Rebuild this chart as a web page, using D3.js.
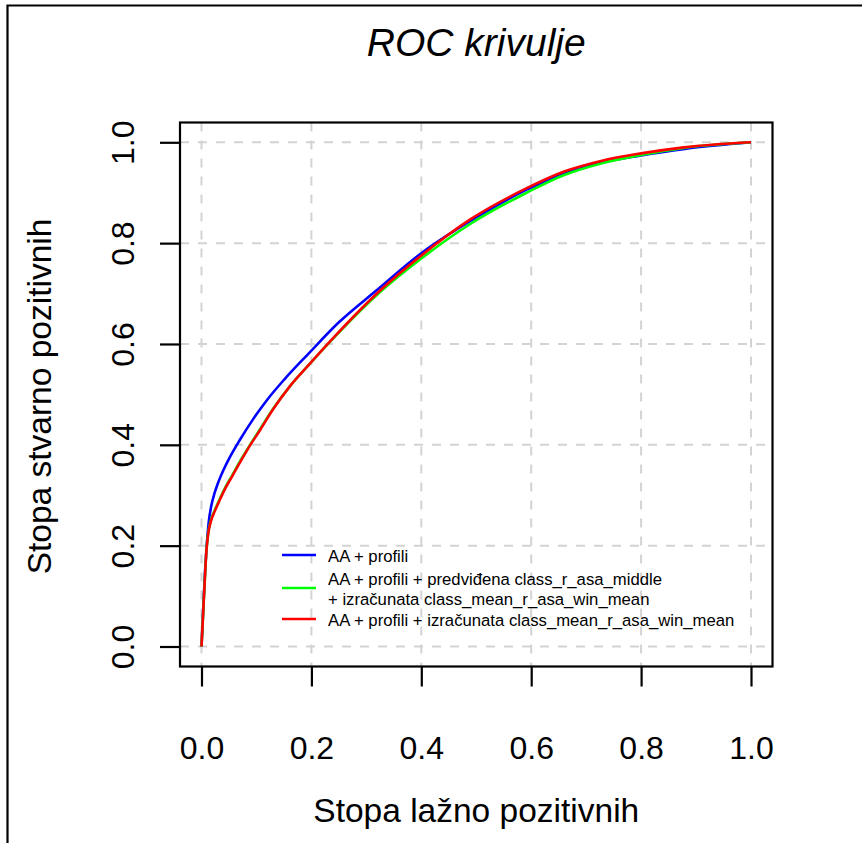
<!DOCTYPE html>
<html>
<head>
<meta charset="utf-8">
<script src="https://cdn.jsdelivr.net/npm/d3@7/dist/d3.min.js"></script>
<style>
  html, body { margin: 0; padding: 0; background: #fff; }
  svg { display: block; }
  text { font-family: "Liberation Sans", Arial, Helvetica, sans-serif; fill: #000; }
</style>
</head>
<body>
<svg id="chart" width="862" height="843"></svg>
<script>
// ROC curves for three feature sets (false positive rate vs. true positive rate)
const fprBlue = [0, 0.003, 0.006, 0.0095, 0.013, 0.018, 0.024, 0.031, 0.04, 0.05, 0.07, 0.094, 0.12, 0.151, 0.194, 0.25, 0.317, 0.40, 0.5, 0.59, 0.7, 0.8, 0.88, 1.0];
const tprBlue = [0, 0.07, 0.14, 0.20, 0.245, 0.28, 0.305, 0.327, 0.35, 0.372, 0.41, 0.451, 0.49, 0.53, 0.58, 0.643, 0.705, 0.78, 0.851, 0.905, 0.952, 0.974, 0.987, 1.0];

const fprGreen = [0, 0.003, 0.006, 0.009, 0.012, 0.017, 0.024, 0.033, 0.044, 0.056, 0.07, 0.085, 0.107, 0.13, 0.16, 0.194, 0.245, 0.324, 0.403, 0.489, 0.59, 0.66, 0.727, 0.8, 0.878, 1.0];
const tprGreen = [0, 0.066, 0.132, 0.19, 0.223, 0.25, 0.27, 0.292, 0.317, 0.34, 0.367, 0.394, 0.432, 0.471, 0.515, 0.557, 0.617, 0.702, 0.772, 0.838, 0.899, 0.935, 0.958, 0.975, 0.989, 1.0];

const fprRed = [0, 0.003, 0.006, 0.009, 0.012, 0.017, 0.024, 0.033, 0.044, 0.056, 0.07, 0.085, 0.107, 0.13, 0.16, 0.194, 0.245, 0.324, 0.403, 0.489, 0.59, 0.66, 0.727, 0.8, 0.878, 1.0];
const tprRed = [0, 0.066, 0.132, 0.19, 0.222, 0.248, 0.268, 0.29, 0.315, 0.338, 0.365, 0.393, 0.43, 0.47, 0.515, 0.557, 0.618, 0.705, 0.778, 0.847, 0.908, 0.942, 0.963, 0.978, 0.99, 1.0];

const tickValues = [0, 0.2, 0.4, 0.6, 0.8, 1.0];
const tickLabels = ["0.0", "0.2", "0.4", "0.6", "0.8", "1.0"];

const seriesNames = [
  ["AA + profili"],
  ["AA + profili + predviđena class_r_asa_middle", "+ izračunata class_mean_r_asa_win_mean"],
  ["AA + profili + izračunata class_mean_r_asa_win_mean"]
];
const seriesColors = ["#0000FF", "#00FF00", "#FF0000"];

const titleText = "ROC krivulje";
const xLabel = "Stopa lažno pozitivnih";
const yLabel = "Stopa stvarno pozitivnih";

const series = [
  fprBlue.map((x, i) => ({x, y: tprBlue[i]})),
  fprGreen.map((x, i) => ({x, y: tprGreen[i]})),
  fprRed.map((x, i) => ({x, y: tprRed[i]}))
];

const svg = d3.select("#chart");

// plotting region box
const box = {left: 180, right: 772.5, top: 122.5, bottom: 666.5};

const x = d3.scaleLinear().domain([0, 1]).range([201.5, 751]);
const y = d3.scaleLinear().domain([0, 1]).range([646.5, 142.3]);

// outer figure frame (left and top edges)
svg.append("path")
  .attr("d", "M7.5,843 L7.5,5.5 L862,5.5")
  .attr("fill", "none").attr("stroke", "#000").attr("stroke-width", 2.2);

// dashed grid
const grid = svg.append("g").attr("stroke", "#D3D3D3").attr("stroke-width", 2)
  .attr("stroke-dasharray", "9,9").attr("fill", "none");
tickValues.forEach(v => {
  grid.append("line").attr("x1", x(v)).attr("x2", x(v)).attr("y1", box.top).attr("y2", box.bottom);
  grid.append("line").attr("x1", box.left).attr("x2", box.right).attr("y1", y(v)).attr("y2", y(v));
});

// curves
const line = d3.line().x(d => x(d.x)).y(d => y(d.y)).curve(d3.curveMonotoneX);
series.forEach((s, i) => {
  svg.append("path").datum(s)
    .attr("d", line)
    .attr("fill", "none")
    .attr("stroke", seriesColors[i])
    .attr("stroke-width", 2.6)
    .attr("stroke-linejoin", "round");
});

// box around the plotting region
svg.append("rect")
  .attr("x", box.left).attr("y", box.top)
  .attr("width", box.right - box.left).attr("height", box.bottom - box.top)
  .attr("fill", "none").attr("stroke", "#000").attr("stroke-width", 2.2);

// x axis
const xAxis = d3.axisBottom(x).tickValues(tickValues)
  .tickFormat((d, i) => tickLabels[i]).tickSize(20).tickPadding(0);
const gx = svg.append("g").attr("transform", `translate(0,${box.bottom})`).call(xAxis);
gx.select(".domain").remove();
gx.selectAll(".tick line").attr("stroke", "#000").attr("stroke-width", 2.2);
gx.selectAll(".tick text").attr("y", 92).attr("dy", null)
  .style("font-size", "32px").style("font-family", "'Liberation Sans', Arial, sans-serif");

// y axis (labels parallel to the axis)
const yAxis = d3.axisLeft(y).tickValues(tickValues)
  .tickFormat((d, i) => tickLabels[i]).tickSize(20).tickPadding(0);
const gy = svg.append("g").attr("transform", `translate(${box.left},0)`).call(yAxis);
gy.select(".domain").remove();
gy.selectAll(".tick line").attr("stroke", "#000").attr("stroke-width", 2.2);
gy.selectAll(".tick text")
  .attr("x", null).attr("dy", null)
  .attr("text-anchor", "middle")
  .attr("transform", "translate(-46,0) rotate(-90)")
  .style("font-size", "32px").style("font-family", "'Liberation Sans', Arial, sans-serif");

// titles
const cx = (box.left + box.right) / 2;
svg.append("text").attr("x", cx).attr("y", 56).attr("text-anchor", "middle")
  .style("font-size", "39px").style("font-style", "italic").text(titleText);
svg.append("text").attr("x", cx).attr("y", 822).attr("text-anchor", "middle")
  .style("font-size", "33.5px").text(xLabel);
svg.append("text")
  .attr("transform", `translate(51,${(box.top + box.bottom) / 2 + 2}) rotate(-90)`)
  .attr("text-anchor", "middle").style("font-size", "33.5px").text(yLabel);

// legend
const legend = svg.append("g");
const legendRows = [
  {ys: [556], lineY: 555},
  {ys: [579, 598.5], lineY: 588},
  {ys: [619.5], lineY: 619}
];
legendRows.forEach((r, i) => {
  legend.append("line").attr("x1", 282).attr("x2", 316)
    .attr("y1", r.lineY).attr("y2", r.lineY)
    .attr("stroke", seriesColors[i]).attr("stroke-width", 2.6);
  seriesNames[i].forEach((t, j) => {
    legend.append("text").attr("x", 328).attr("y", r.ys[j] + 6)
      .style("font-size", "16.7px").text(t);
  });
});
</script>
</body>
</html>
